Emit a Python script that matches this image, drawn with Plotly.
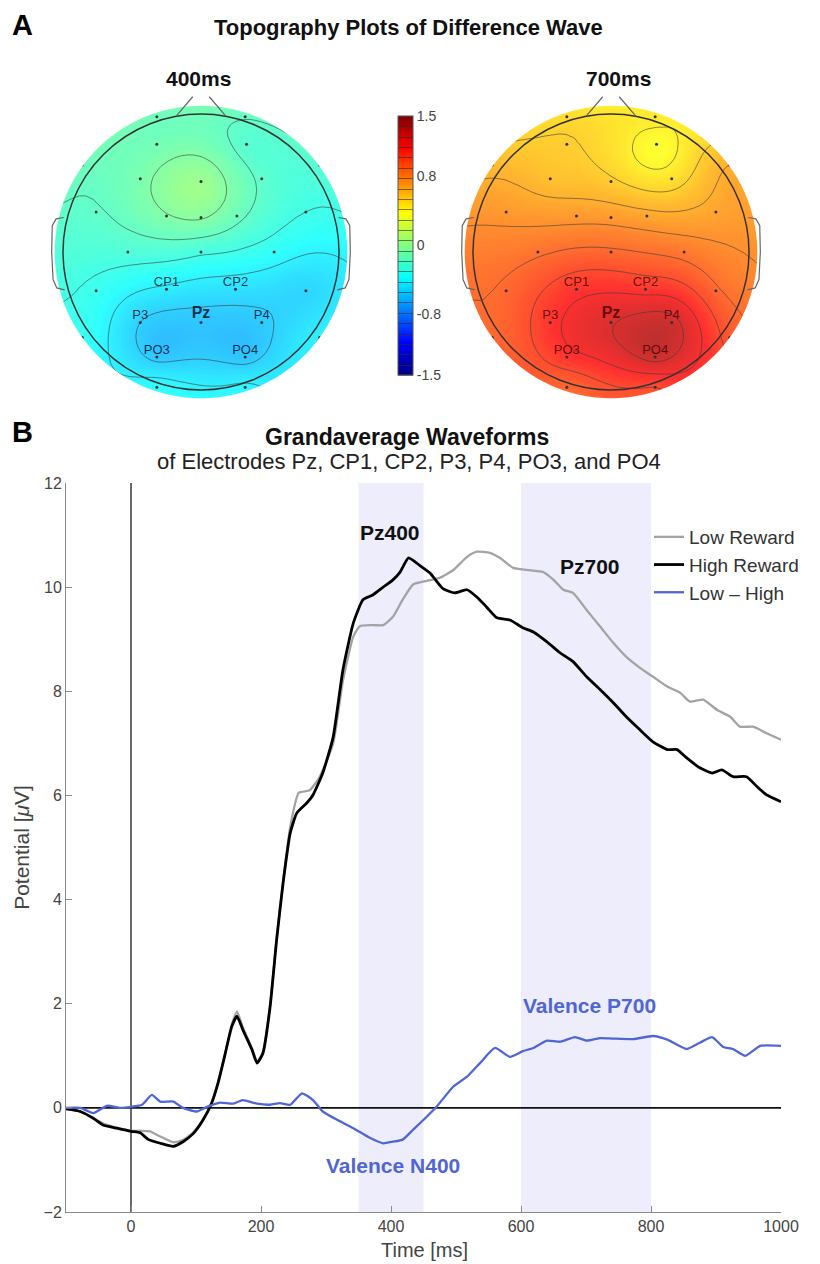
import numpy as np
import plotly.graph_objects as go

W, H = 820, 1264
FONT = "Liberation Sans, Arial, Helvetica, sans-serif"

# ---------------- Panel B data ----------------
time_low = [-100, -78, -58, -43, -22, 0, 14, 29, 45, 65, 80, 96, 111, 124, 134, 144, 155, 163, 172, 186,
            194, 203, 214, 224, 234, 245, 258, 275, 290, 311, 326, 342, 352, 372, 388, 403, 418, 434, 455,
            475, 496, 517, 532, 552, 568, 588, 609, 634, 650, 665, 680, 701, 722, 742, 762, 783, 803, 825,
            845, 860, 880, 902, 922, 937, 957, 977, 1000]
low_reward = [-0.02, -0.07, -0.2, -0.3, -0.38, -0.44, -0.44, -0.45, -0.55, -0.66, -0.62, -0.47, -0.22, 0.1,
              0.5, 1.0, 1.6, 1.85, 1.55, 1.15, 0.88, 1.08, 1.98, 3.25, 4.35, 5.4, 6.05, 6.1, 6.35, 7.0, 8.2,
              9.05, 9.25, 9.27, 9.27, 9.43, 9.76, 10.05, 10.12, 10.18, 10.33, 10.58, 10.68, 10.66, 10.56,
              10.37, 10.33, 10.29, 10.14, 9.95, 9.89, 9.56, 9.24, 8.93, 8.66, 8.45, 8.28, 8.09, 7.97, 7.80,
              7.84, 7.64, 7.51, 7.32, 7.32, 7.20, 7.07]

time_high = [-100, -78, -58, -43, -22, 0, 14, 27, 45, 65, 80, 96, 111, 124, 134, 144, 155, 163, 172, 186,
             194, 203, 214, 224, 234, 245, 255, 270, 280, 295, 311, 326, 342, 357, 372, 388, 403, 414, 427,
             445, 460, 480, 498, 517, 532, 547, 563, 583, 603, 619, 640, 660, 680, 701, 722, 742, 762, 783,
             803, 825, 840, 855, 875, 894, 909, 926, 947, 963, 978, 1000]
high_reward = [-0.02, -0.07, -0.2, -0.33, -0.39, -0.45, -0.48, -0.61, -0.68, -0.74, -0.65, -0.49, -0.23, 0.09,
               0.48, 0.99, 1.56, 1.76, 1.5, 1.12, 0.86, 1.05, 1.94, 3.22, 4.32, 5.28, 5.66, 5.85, 6.01, 6.43,
               7.12, 8.41, 9.31, 9.76, 9.85, 10.0, 10.14, 10.29, 10.56, 10.41, 10.27, 9.97, 9.89, 9.95, 9.81,
               9.62, 9.41, 9.37, 9.22, 9.14, 8.95, 8.74, 8.57, 8.28, 8.03, 7.78, 7.51, 7.26, 7.03, 6.88, 6.88,
               6.72, 6.53, 6.43, 6.49, 6.36, 6.36, 6.17, 6.01, 5.88]

time_diff = [-100, -78, -58, -37, -17, 0, 17, 32, 45, 65, 80, 101, 117, 137, 157, 172, 194, 214, 229, 245,
             263, 280, 295, 317, 342, 368, 388, 403, 418, 434, 455, 470, 496, 517, 537, 560, 583, 603, 619,
             640, 660, 683, 701, 722, 742, 773, 803, 825, 855, 875, 894, 911, 926, 945, 968, 1000]
low_minus_high = [0, 0, -0.1, 0.04, 0, 0.02, 0.06, 0.25, 0.12, 0.12, 0, -0.07, 0.02, 0.1, 0.08, 0.15, 0.08,
                  0.06, 0.09, 0.06, 0.28, 0.15, -0.07, -0.23, -0.39, -0.58, -0.68, -0.65, -0.61, -0.42, -0.17,
                  0.02, 0.41, 0.6, 0.86, 1.15, 0.98, 1.09, 1.15, 1.29, 1.27, 1.36, 1.29, 1.34, 1.33, 1.32,
                  1.38, 1.31, 1.13, 1.25, 1.36, 1.17, 1.13, 1.0, 1.19, 1.19]

x_ticks = [0, 200, 400, 600, 800, 1000]
y_ticks = [-2, 0, 2, 4, 6, 8, 10, 12]
analysis_windows = [(350, 450), (600, 800)]

# ---------------- Panel A data (electrode montage and values) ----------------
electrode_names = ["Fp1", "Fp2", "AF3", "AF4", "F7", "F3", "Fz", "F4", "F8", "FC5", "FC1", "FCz", "FC2",
                   "FC6", "C3", "Cz", "C4", "CP5", "CP1", "CP2", "CP6", "P7", "P3", "Pz", "P4", "P8",
                   "PO3", "PO4", "O1", "O2"]
electrode_x = [-0.32, 0.32, -0.32, 0.33, -0.86, -0.44, 0.0, 0.44, 0.86, -0.76, -0.25, 0.0, 0.26,
               0.76, -0.53, 0.0, 0.53, -0.76, -0.25, 0.25, 0.76, -0.86, -0.44, 0.0, 0.44, 0.86,
               -0.32, 0.32, -0.32, 0.32]
electrode_y = [0.98, 0.98, 0.78, 0.78, 0.63, 0.53, 0.51, 0.53, 0.63, 0.29, 0.26, 0.25, 0.26,
               0.29, 0.0, 0.0, 0.0, -0.28, -0.27, -0.27, -0.28, -0.62, -0.51, -0.51, -0.51, -0.62,
               -0.76, -0.76, -0.98, -0.98]
topo_400ms = [-0.14, -0.17, -0.12, -0.22, -0.14, -0.09, 0.03, -0.2, -0.22, -0.19, -0.07, -0.05, -0.15,
              -0.3, -0.25, -0.28, -0.36, -0.33, -0.44, -0.48, -0.52, -0.34, -0.54, -0.58, -0.56, -0.42,
              -0.57, -0.58, -0.36, -0.4]
topo_700ms = [0.5, 0.45, 0.55, 0.36, 0.62, 0.6, 0.56, 0.48, 0.66, 0.74, 0.74, 0.74, 0.7,
              0.7, 0.88, 0.92, 0.86, 0.92, 1.1, 1.1, 0.92, 0.92, 1.1, 1.25, 1.3, 0.98,
              1.1, 1.3, 0.92, 1.02]
labelled_electrodes = ["CP1", "CP2", "P3", "Pz", "P4", "PO3", "PO4"]
cbar_ticks = [-1.5, -0.8, 0, 0.8, 1.5]
cbar_labels = ["-1.5", "-0.8", "0", "0.8", "1.5"]

JET = [[0.0, "rgb(0,0,128)"], [0.125, "rgb(0,0,255)"], [0.375, "rgb(0,255,255)"],
       [0.625, "rgb(255,255,0)"], [0.875, "rgb(255,0,0)"], [1.0, "rgb(128,0,0)"]]


def px(x):
    return x / W


def py(y):
    return 1 - y / H


def biharmonic(ex, ey, ev, gx, gy):
    ex, ey, ev = np.asarray(ex, float), np.asarray(ey, float), np.asarray(ev, float)
    d = np.hypot(ex[:, None] - ex[None, :], ey[:, None] - ey[None, :])
    dsafe = np.where(d > 0, d, 1.0)
    G = np.where(d > 0, d ** 2 * (np.log(dsafe) - 1), 0.0)
    w = np.linalg.solve(G, ev)
    X, Y = np.meshgrid(gx, gy)
    dd = np.hypot(X[..., None] - ex, Y[..., None] - ey)
    ddsafe = np.where(dd > 0, dd, 1.0)
    Gg = np.where(dd > 0, dd ** 2 * (np.log(ddsafe) - 1), 0.0)
    return Gg @ w


grid = np.linspace(-1.1, 1.1, 111)

fig = go.Figure()

# ---------------- Panel B traces ----------------
fig.add_trace(go.Scatter(x=time_low, y=low_reward, name="Low Reward", mode="lines",
                         line=dict(color="#a3a3a3", width=2.3, shape="spline", smoothing=0.5)))
fig.add_trace(go.Scatter(x=time_high, y=high_reward, name="High Reward", mode="lines",
                         line=dict(color="#000000", width=2.8, shape="spline", smoothing=0.5)))
fig.add_trace(go.Scatter(x=time_diff, y=low_minus_high, name="Low \u2013 High", mode="lines",
                         line=dict(color="#5066d4", width=2.3, shape="spline", smoothing=0.5)))

# ---------------- Panel A topographies ----------------
topos = [("x2", "y2", topo_400ms, True, "rgba(10,20,50,0.85)"),
         ("x3", "y3", topo_700ms, False, "rgba(70,0,0,0.8)")]
for xa, ya, vals, show_cb, lab_col in topos:
    z = biharmonic(electrode_x, electrode_y, vals, grid, grid)
    z = np.clip(z, -1.6, 1.6).round(3)
    fig.add_trace(go.Contour(
        x=grid, y=grid, z=z, xaxis=xa, yaxis=ya, colorscale=JET, zmin=-1.5, zmax=1.5,
        contours=dict(coloring="heatmap", showlines=True, start=-1.5, end=1.5, size=0.12),
        line=dict(color="rgba(40,40,40,0.6)", width=1, smoothing=1.0), opacity=0.9,
        showscale=show_cb, hoverinfo="skip", showlegend=False,
        colorbar=dict(x=px(398), xanchor="left", y=py(245.5), yanchor="middle",
                      len=259 / H, lenmode="fraction", thickness=15, thicknessmode="pixels",
                      xpad=0, ypad=0, tickvals=cbar_ticks, ticktext=cbar_labels, ticks="",
                      outlinewidth=1, outlinecolor="#555",
                      tickfont=dict(family=FONT, size=14, color="#444"))))
    fig.add_trace(go.Scatter(x=electrode_x, y=electrode_y, xaxis=xa, yaxis=ya, mode="markers",
                             marker=dict(size=3, color="#333"), hoverinfo="skip", showlegend=False))
    lx = [electrode_x[electrode_names.index(n)] for n in labelled_electrodes]
    ly = [electrode_y[electrode_names.index(n)] for n in labelled_electrodes]
    txt = ["<b>Pz</b>" if n == "Pz" else n for n in labelled_electrodes]
    sizes = [16 if n == "Pz" else 13 for n in labelled_electrodes]
    fig.add_trace(go.Scatter(x=lx, y=ly, xaxis=xa, yaxis=ya, mode="text", text=txt,
                             textposition="top center",
                             textfont=dict(family=FONT, size=sizes, color=lab_col),
                             hoverinfo="skip", showlegend=False))

# ---------------- shapes ----------------
shapes = []
for a, b in analysis_windows:
    shapes.append(dict(type="rect", xref="x", yref="y domain", x0=a, x1=b, y0=0, y1=1,
                       fillcolor="#ededfb", line=dict(width=0), layer="below"))
shapes.append(dict(type="line", xref="x", yref="y domain", x0=0, x1=0, y0=0, y1=1,
                   line=dict(color="#444", width=1.6), layer="below"))
shapes.append(dict(type="line", xref="x domain", yref="y", x0=0, x1=1, y0=0, y1=0,
                   line=dict(color="#111", width=1.6), layer="below"))

ang = np.linspace(0, 2 * np.pi, 241)
rmask = 1.06
hole = " ".join(f"L {rmask * np.cos(t):.4f},{-rmask * np.sin(t):.4f}" for t in ang[1:])
mask_path = (f"M -1.3,-1.3 L 1.3,-1.3 L 1.3,1.3 L -1.3,1.3 Z "
             f"M {rmask:.4f},0 {hole} Z")
ear_l = "M -0.995,0.25 L -1.05,0.24 L -1.078,0.19 L -1.082,0.0 L -1.072,-0.2 L -1.045,-0.26 L -0.988,-0.275"
ear_r = "M 0.995,0.25 L 1.05,0.24 L 1.078,0.19 L 1.082,0.0 L 1.072,-0.2 L 1.045,-0.26 L 0.988,-0.275"
nose = "M -0.18,0.985 L -0.06,1.125 M 0.06,1.125 L 0.18,0.985"
for xa, ya in [("x2", "y2"), ("x3", "y3")]:
    shapes.append(dict(type="path", xref=xa, yref=ya, path=mask_path, fillcolor="white",
                       line=dict(width=0), layer="above", fillrule="evenodd"))
    shapes.append(dict(type="circle", xref=xa, yref=ya, x0=-1, x1=1, y0=-1, y1=1,
                       line=dict(color="#333", width=1.5), layer="above"))
    for p in (ear_l, ear_r, nose):
        shapes.append(dict(type="path", xref=xa, yref=ya, path=p,
                           line=dict(color="#666", width=1.2), layer="above"))

# ---------------- annotations ----------------
ann = []


def add_text(text, x, y, size, color="#111", xanchor="center", xref="paper", yref="paper"):
    ann.append(dict(text=text, x=x, y=y, xref=xref, yref=yref, showarrow=False,
                    xanchor=xanchor, yanchor="middle",
                    font=dict(family=FONT, size=size, color=color)))


add_text("<b>A</b>", px(10), py(25), 29, "#000", "left")
add_text("<b>B</b>", px(10), py(432), 29, "#000", "left")
add_text("<b>Topography Plots of Difference Wave</b>", px(408), py(27), 22)
add_text("<b>400ms</b>", px(198), py(78), 21)
add_text("<b>700ms</b>", px(618), py(78), 21)
add_text("<b>Grandaverage Waveforms</b>", px(407), py(437), 23)
add_text("of Electrodes Pz, CP1, CP2, P3, P4, PO3, and PO4", px(409), py(462), 22, "#222")
add_text("Time [ms]", px(424), py(1250), 20, "#444")
add_text("<b>Pz400</b>", 398, 11.04, 21, "#111", xref="x", yref="y")
add_text("<b>Pz700</b>", 706, 10.39, 21, "#111", xref="x", yref="y")
add_text("<b>Valence N400</b>", 403, -1.11, 21, "#5066d4", xref="x", yref="y")
add_text("<b>Valence P700</b>", 706, 1.96, 21, "#5066d4", xref="x", yref="y")

axis_common = dict(showgrid=False, zeroline=False, showline=True, linecolor="#8a8a8a", linewidth=1,
                   ticks="inside", ticklen=6, tickcolor="#8a8a8a", mirror=False, automargin=False,
                   tickfont=dict(family=FONT, size=16, color="#444"))
topo_axis = dict(range=[-1.2, 1.2], visible=False, showgrid=False, zeroline=False, fixedrange=True,
                 automargin=False)

fig.update_layout(
    width=W, height=H, margin=dict(l=0, r=0, t=0, b=0, autoexpand=False),
    paper_bgcolor="white", plot_bgcolor="white",
    font=dict(family=FONT, color="#333"),
    xaxis=dict(domain=[px(66), px(781)], range=[-100, 1000], tickvals=x_ticks, **axis_common),
    yaxis=dict(domain=[py(1212), py(483)], range=[-2, 12], tickvals=y_ticks,
               title=dict(text="Potential [<i>\u03bc</i>V]", standoff=8,
                          font=dict(family=FONT, size=21, color="#444")),
               **axis_common),
    xaxis2=dict(domain=[px(201 - 165.6), px(201 + 165.6)], anchor="y2", **topo_axis),
    yaxis2=dict(domain=[py(252 + 165.6), py(252 - 165.6)], anchor="x2", **topo_axis),
    xaxis3=dict(domain=[px(611 - 165.6), px(611 + 165.6)], anchor="y3", **topo_axis),
    yaxis3=dict(domain=[py(252 + 165.6), py(252 - 165.6)], anchor="x3", **topo_axis),
    legend=dict(x=px(649), y=py(518), xanchor="left", yanchor="top", bgcolor="rgba(0,0,0,0)",
                font=dict(family=FONT, size=19, color="#333"), itemwidth=30, tracegroupgap=0),
    shapes=shapes, annotations=ann, showlegend=True,
)

fig.write_html("out.html")
